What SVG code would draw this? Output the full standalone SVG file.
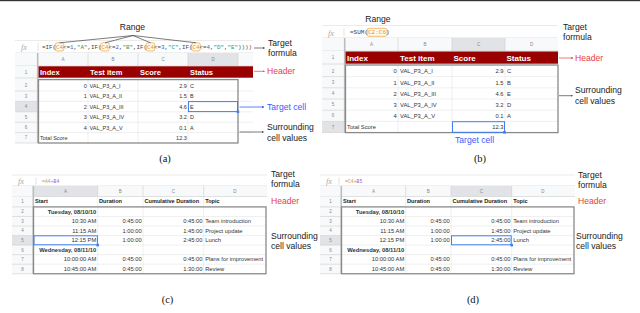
<svg xmlns="http://www.w3.org/2000/svg" width="640" height="313" viewBox="0 0 640 313">
<defs>
<style>
.ann{font-family:"Liberation Sans",Arial,sans-serif;font-size:8.6px;fill:#222}
.red{fill:#e8413c}
.blu{fill:#3d5afe}
.c{font-family:"Liberation Sans",Arial,sans-serif;font-size:5.5px;fill:#333}
.c2{font-family:"Liberation Sans",Arial,sans-serif;font-size:5.8px;fill:#333}
.r{text-anchor:end}
.b{font-weight:bold}
.hw{font-family:"Liberation Sans",Arial,sans-serif;font-weight:bold;fill:#fff;font-size:7.5px}
.hw2{font-family:"Liberation Sans",Arial,sans-serif;font-weight:bold;fill:#fff;font-size:8px}
.hb{font-family:"Liberation Sans",Arial,sans-serif;font-weight:bold;fill:#222;font-size:5.6px}
.lab{font-family:"Liberation Sans",Arial,sans-serif;font-size:4.5px;fill:#888;text-anchor:middle}
.fx{font-family:"Liberation Serif","Times New Roman",serif;font-style:italic;font-size:8.5px;fill:#aaa}
.mono{font-family:"Liberation Mono","Courier New",monospace;fill:#444}
.or{fill:#e69138}
.nu{fill:#3367d6}
.st{fill:#0f9d58}
.pu{fill:#9c5fc4}
.gr{fill:#999}
.hdrbg{fill:#f8f9fa}
.sel{fill:#e1e3e6}
.grid{stroke:#e4e4e4;stroke-width:0.6}
.div{stroke:#cfcfcf;stroke-width:0.6}
.frz{stroke:#bdbdbd;stroke-width:1.6}
.outl{fill:none;stroke:#8a8a8a;stroke-width:1.3}
.tc{fill:none;stroke:#3f7ff0;stroke-width:1}
.hnd{fill:#3f7ff0}
.bar{stroke:#e6e6e6;stroke-width:0.8}
.rbox{fill:#fffaf2;stroke:#f0a030;stroke-width:0.7}
.cap{font-family:"Liberation Serif","Times New Roman",serif;font-size:10.5px;fill:#111;text-anchor:middle}
.ln{stroke:#444;stroke-width:0.7;fill:none}
.lnr{stroke:#e8413c;stroke-width:0.7;fill:none}
.lnb{stroke:#3d5afe;stroke-width:0.8;fill:none}
</style>
<marker id="ah" viewBox="0 0 6 6" refX="5" refY="3" markerWidth="3" markerHeight="3" orient="auto"><path d="M0,0 L6,3 L0,6 z" fill="#444"/></marker>
<marker id="ahr" viewBox="0 0 6 6" refX="5" refY="3" markerWidth="3" markerHeight="3" orient="auto"><path d="M0,0 L6,3 L0,6 z" fill="#e8413c"/></marker>
<marker id="ahb" viewBox="0 0 6 6" refX="5" refY="3" markerWidth="3" markerHeight="3" orient="auto"><path d="M0,0 L6,3 L0,6 z" fill="#3d5afe"/></marker>
</defs>
<rect x="0" y="0" width="640" height="313" fill="#fff"/>
<rect x="0" y="0" width="640" height="1.2" fill="#333"/>

<!-- ===== Panel (a) ===== -->
<g id="panel-a">
  <text class="ann" x="132.5" y="29.5" text-anchor="middle">Range</text>
  <line class="bar" x1="15" y1="40.5" x2="253" y2="40.5"/>
  <text class="fx" x="21" y="50">fx</text>
  <line x1="38" y1="43" x2="38" y2="51" stroke="#ccc" stroke-width="0.6"/>
  <rect class="rbox" x="55.2" y="42.8" width="8.6" height="8.2" rx="2"/>
  <rect class="rbox" x="100.7" y="42.8" width="8.6" height="8.2" rx="2"/>
  <rect class="rbox" x="146.2" y="42.8" width="8.6" height="8.2" rx="2"/>
  <rect class="rbox" x="191.7" y="42.8" width="8.6" height="8.2" rx="2"/>
  <text class="mono" x="42" y="49.2" font-size="5.83" textLength="210" lengthAdjust="spacing">=IF(<tspan class="or">C4</tspan>&lt;=<tspan class="nu">1</tspan>,<tspan class="st">"A"</tspan>,IF(<tspan class="or">C4</tspan>&lt;=<tspan class="nu">2</tspan>,<tspan class="st">"B"</tspan>,IF(<tspan class="or">C4</tspan>&lt;=<tspan class="nu">3</tspan>,<tspan class="st">"C"</tspan>,IF(<tspan class="or">C4</tspan>&lt;=<tspan class="nu">4</tspan>,<tspan class="st">"D"</tspan>,<tspan class="st">"E"</tspan>))))</text>
  <line class="div" x1="15" y1="53" x2="253" y2="53"/>
  <rect class="hdrbg" x="15" y="53" width="238" height="13"/>
  <rect class="sel" x="188" y="53" width="50" height="13"/>
  <line class="div" x1="88" y1="53" x2="88" y2="66"/>
  <line class="div" x1="138" y1="53" x2="138" y2="66"/>
  <line class="div" x1="188" y1="53" x2="188" y2="66"/>
  <line class="div" x1="238" y1="53" x2="238" y2="66"/>
  <text class="lab" x="63" y="61.3">A</text>
  <text class="lab" x="113" y="61.3">B</text>
  <text class="lab" x="163" y="61.3">C</text>
  <text class="lab" x="213" y="61.3">D</text>
  <line class="div" x1="15" y1="66" x2="253" y2="66"/>
  <rect class="hdrbg" x="15" y="66" width="22.5" height="77"/>
  <rect class="sel" x="15" y="101.4" width="22.5" height="10.4"/>
  <g class="div">
    <line x1="15" y1="78" x2="37.5" y2="78"/>
    <line x1="15" y1="91" x2="37.5" y2="91"/>
    <line x1="15" y1="101.4" x2="37.5" y2="101.4"/>
    <line x1="15" y1="111.8" x2="37.5" y2="111.8"/>
    <line x1="15" y1="122.2" x2="37.5" y2="122.2"/>
    <line x1="15" y1="132.6" x2="37.5" y2="132.6"/>
    <line x1="15" y1="143" x2="37.5" y2="143"/>
  </g>
  <text class="lab" x="26" y="73.5">1</text>
  <text class="lab" x="26" y="87.4">2</text>
  <text class="lab" x="26" y="97.8">3</text>
  <text class="lab" x="26" y="108.2">4</text>
  <text class="lab" x="26" y="118.6">5</text>
  <text class="lab" x="26" y="129">6</text>
  <text class="lab" x="26" y="139.4">7</text>
  <line class="frz" x1="37.7" y1="53" x2="37.7" y2="143"/>
  <rect x="38.5" y="66.3" width="214.5" height="11.4" fill="#990000"/>
  <text class="hw" x="40" y="74.7">Index</text>
  <text class="hw" x="90" y="74.7">Test item</text>
  <text class="hw" x="140" y="74.7">Score</text>
  <text class="hw" x="190" y="74.7">Status</text>
  <g class="grid">
    <line x1="38" y1="91" x2="253" y2="91"/>
    <line x1="38" y1="101.4" x2="253" y2="101.4"/>
    <line x1="38" y1="111.8" x2="253" y2="111.8"/>
    <line x1="38" y1="122.2" x2="253" y2="122.2"/>
    <line x1="38" y1="132.6" x2="253" y2="132.6"/>
    <line x1="88" y1="80" x2="88" y2="143"/>
    <line x1="138" y1="80" x2="138" y2="143"/>
    <line x1="188" y1="80" x2="188" y2="143"/>
  </g>
  <rect class="outl" x="38.5" y="79.6" width="199.5" height="63.4"/>
  <g class="c">
    <text class="r" x="86.8" y="88">0</text><text x="89.5" y="88">VAL_P3_A_I</text><text class="r" x="186.8" y="88">2.9</text><text x="190" y="88">C</text>
    <text class="r" x="86.8" y="98.4">1</text><text x="89.5" y="98.4">VAL_P3_A_II</text><text class="r" x="186.8" y="98.4">1.5</text><text x="190" y="98.4">B</text>
    <text class="r" x="86.8" y="108.8">2</text><text x="89.5" y="108.8">VAL_P3_A_III</text><text class="r" x="186.8" y="108.8">4.6</text><text x="190" y="108.8">E</text>
    <text class="r" x="86.8" y="119.2">3</text><text x="89.5" y="119.2">VAL_P3_A_IV</text><text class="r" x="186.8" y="119.2">3.2</text><text x="190" y="119.2">D</text>
    <text class="r" x="86.8" y="129.6">4</text><text x="89.5" y="129.6">VAL_P3_A_V</text><text class="r" x="186.8" y="129.6">0.1</text><text x="190" y="129.6">A</text>
    <text x="40" y="140">Total Score</text><text class="r" x="186.8" y="140">12.3</text>
  </g>
  <rect class="tc" x="188.5" y="101.6" width="49" height="10"/>
  <rect class="hnd" x="236.6" y="110.4" width="2.6" height="2.6"/>
  <text class="ann" x="268" y="46">Target</text>
  <text class="ann" x="268" y="56">formula</text>
  <text class="ann red" x="267" y="74.3">Header</text>
  <text class="ann blu" x="267" y="110">Target cell</text>
  <text class="ann" x="267" y="130.2">Surrounding</text>
  <text class="ann" x="267" y="140.8">cell values</text>
  <text class="cap" x="165" y="161.5">(a)</text>
</g>

<!-- ===== Panel (b) ===== -->
<g id="panel-b">
  <text class="ann" x="378" y="21.5" text-anchor="middle">Range</text>
  <line class="bar" x1="322" y1="25.5" x2="558" y2="25.5"/>
  <text class="fx" x="328" y="36">fx</text>
  <line x1="344" y1="28.5" x2="344" y2="36.5" stroke="#ccc" stroke-width="0.6"/>
  <rect class="rbox" x="367" y="28.3" width="20" height="8" rx="2"/>
  <text class="mono" x="350" y="34.4" font-size="6" textLength="39.6" lengthAdjust="spacing">=SUM(<tspan class="or">C2:C6</tspan>)</text>
  <line class="div" x1="322" y1="38" x2="558" y2="38"/>
  <rect class="hdrbg" x="322" y="38" width="236" height="13"/>
  <rect class="sel" x="452" y="38" width="53" height="13"/>
  <line class="div" x1="398" y1="38" x2="398" y2="51"/>
  <line class="div" x1="452" y1="38" x2="452" y2="51"/>
  <line class="div" x1="505" y1="38" x2="505" y2="51"/>
  <text class="lab" x="371.5" y="46">A</text>
  <text class="lab" x="425" y="46">B</text>
  <text class="lab" x="478.5" y="46">C</text>
  <text class="lab" x="531.5" y="46">D</text>
  <line class="div" x1="322" y1="51" x2="558" y2="51"/>
  <rect class="hdrbg" x="322" y="51" width="22.5" height="82"/>
  <rect class="sel" x="322" y="121.4" width="22.5" height="11.2"/>
  <g class="div">
    <line x1="322" y1="64" x2="344.5" y2="64"/>
    <line x1="322" y1="76.6" x2="344.5" y2="76.6"/>
    <line x1="322" y1="87.8" x2="344.5" y2="87.8"/>
    <line x1="322" y1="99" x2="344.5" y2="99"/>
    <line x1="322" y1="110.2" x2="344.5" y2="110.2"/>
    <line x1="322" y1="121.4" x2="344.5" y2="121.4"/>
    <line x1="322" y1="132.6" x2="344.5" y2="132.6"/>
  </g>
  <text class="lab" x="333" y="59.3">1</text>
  <text class="lab" x="333" y="72.6">2</text>
  <text class="lab" x="333" y="83.8">3</text>
  <text class="lab" x="333" y="95">4</text>
  <text class="lab" x="333" y="106.2">5</text>
  <text class="lab" x="333" y="117.4">6</text>
  <text class="lab" x="333" y="128.6">7</text>
  <line class="frz" x1="344.7" y1="38" x2="344.7" y2="133"/>
  <rect x="345.5" y="51.5" width="212.5" height="12.2" fill="#990000"/>
  <text class="hw2" x="347" y="60.6">Index</text>
  <text class="hw2" x="400" y="60.6">Test item</text>
  <text class="hw2" x="453.5" y="60.6">Score</text>
  <text class="hw2" x="506.5" y="60.6">Status</text>
  <g class="grid">
    <line x1="345" y1="76.6" x2="558" y2="76.6"/>
    <line x1="345" y1="87.8" x2="558" y2="87.8"/>
    <line x1="345" y1="99" x2="558" y2="99"/>
    <line x1="345" y1="110.2" x2="558" y2="110.2"/>
    <line x1="345" y1="121.4" x2="558" y2="121.4"/>
    <line x1="398" y1="65" x2="398" y2="133"/>
    <line x1="452" y1="65" x2="452" y2="133"/>
    <line x1="505" y1="65" x2="505" y2="133"/>
  </g>
  <rect class="outl" x="345.5" y="65" width="212.5" height="67.6"/>
  <g class="c2">
    <text class="r" x="396.8" y="73.3">0</text><text x="400" y="73.3">VAL_P3_A_I</text><text class="r" x="503.5" y="73.3">2.9</text><text x="507" y="73.3">C</text>
    <text class="r" x="396.8" y="84.5">1</text><text x="400" y="84.5">VAL_P3_A_II</text><text class="r" x="503.5" y="84.5">1.5</text><text x="507" y="84.5">B</text>
    <text class="r" x="396.8" y="95.7">2</text><text x="400" y="95.7">VAL_P3_A_III</text><text class="r" x="503.5" y="95.7">4.6</text><text x="507" y="95.7">E</text>
    <text class="r" x="396.8" y="106.9">3</text><text x="400" y="106.9">VAL_P3_A_IV</text><text class="r" x="503.5" y="106.9">3.2</text><text x="507" y="106.9">D</text>
    <text class="r" x="396.8" y="118.1">4</text><text x="400" y="118.1">VAL_P3_A_V</text><text class="r" x="503.5" y="118.1">0.1</text><text x="507" y="118.1">A</text>
    <text x="347" y="129.3">Total Score</text><text class="r" x="503.5" y="129.3">12.3</text>
  </g>
  <rect class="tc" x="452.5" y="121.7" width="52" height="10.6"/>
  <rect class="hnd" x="503.2" y="131" width="2.6" height="2.6"/>
  <text class="ann" x="563" y="29.5">Target</text>
  <text class="ann" x="563" y="39.5">formula</text>
  <text class="ann red" x="575" y="61">Header</text>
  <text class="ann blu" x="455" y="142.5">Target cell</text>
  <text class="ann" x="575" y="93">Surrounding</text>
  <text class="ann" x="575" y="103.5">cell values</text>
  <text class="cap" x="480" y="161.5">(b)</text>
</g>

<!-- ===== Panel (c) ===== -->
<g id="panel-c">
  <line class="bar" x1="12" y1="175" x2="267" y2="175"/>
  <text class="fx" x="18" y="184">fx</text>
  <line x1="36" y1="177.5" x2="36" y2="184.5" stroke="#ccc" stroke-width="0.6"/>
  <text class="mono" x="42" y="182.6" font-size="4.8"><tspan class="gr">=</tspan><tspan class="or">A4</tspan><tspan class="gr">+</tspan><tspan class="pu">B4</tspan></text>
  <line class="div" x1="12" y1="186" x2="267" y2="186"/>
  <rect class="hdrbg" x="12" y="186" width="255" height="10.5"/>
  <rect class="sel" x="33.5" y="186" width="64.2" height="10.5"/>
  <line class="div" x1="97.7" y1="186" x2="97.7" y2="196.5"/>
  <line class="div" x1="143" y1="186" x2="143" y2="196.5"/>
  <line class="div" x1="203.7" y1="186" x2="203.7" y2="196.5"/>
  <text class="lab" x="65.6" y="193">A</text>
  <text class="lab" x="120.3" y="193">B</text>
  <text class="lab" x="173.3" y="193">C</text>
  <text class="lab" x="234.8" y="193">D</text>
  <line class="div" x1="12" y1="196.5" x2="267" y2="196.5"/>
  <rect class="hdrbg" x="12" y="196.5" width="21.3" height="77.3"/>
  <rect class="sel" x="12" y="235.55" width="21.3" height="9.55"/>
  <g class="div">
    <line x1="12" y1="206.9" x2="33.3" y2="206.9"/>
    <line x1="12" y1="216.45" x2="33.3" y2="216.45"/>
    <line x1="12" y1="226" x2="33.3" y2="226"/>
    <line x1="12" y1="235.55" x2="33.3" y2="235.55"/>
    <line x1="12" y1="245.1" x2="33.3" y2="245.1"/>
    <line x1="12" y1="254.65" x2="33.3" y2="254.65"/>
    <line x1="12" y1="264.2" x2="33.3" y2="264.2"/>
    <line x1="12" y1="273.75" x2="33.3" y2="273.75"/>
  </g>
  <text class="lab" x="22.5" y="203">1</text>
  <text class="lab" x="22.5" y="213.3">2</text>
  <text class="lab" x="22.5" y="222.8">3</text>
  <text class="lab" x="22.5" y="232.4">4</text>
  <text class="lab" x="22.5" y="241.9">5</text>
  <text class="lab" x="22.5" y="251.5">6</text>
  <text class="lab" x="22.5" y="261">7</text>
  <text class="lab" x="22.5" y="270.6">8</text>
  <line class="frz" x1="33.3" y1="186" x2="33.3" y2="274"/>
  <g class="grid">
    <line x1="97.7" y1="196.5" x2="97.7" y2="274"/>
    <line x1="143" y1="196.5" x2="143" y2="274"/>
    <line x1="203.7" y1="196.5" x2="203.7" y2="274"/>
    <line x1="33.5" y1="216.45" x2="266" y2="216.45"/>
    <line x1="33.5" y1="226" x2="266" y2="226"/>
    <line x1="33.5" y1="235.55" x2="266" y2="235.55"/>
    <line x1="33.5" y1="245.1" x2="266" y2="245.1"/>
    <line x1="33.5" y1="254.65" x2="266" y2="254.65"/>
    <line x1="33.5" y1="264.2" x2="266" y2="264.2"/>
  </g>
  <text class="hb" x="35" y="203.3">Start</text>
  <text class="hb" x="99" y="203.3">Duration</text>
  <text class="hb" x="144.5" y="203.3">Cumulative Duration</text>
  <text class="hb" x="205.2" y="203.3">Topic</text>
  <rect class="outl" x="33.5" y="206.9" width="232.5" height="66.85"/>
  <g class="c2">
    <text class="r b" x="96.3" y="213.6">Tuesday, 08/10/10</text>
    <text class="r" x="96.3" y="223.2">10:30 AM</text><text class="r" x="141.8" y="223.2">0:45:00</text><text class="r" x="202.5" y="223.2">0:45:00</text><text x="205.2" y="223.2">Team introduction</text>
    <text class="r" x="96.3" y="232.7">11:15 AM</text><text class="r" x="141.8" y="232.7">1:00:00</text><text class="r" x="202.5" y="232.7">1:45:00</text><text x="205.2" y="232.7">Project update</text>
    <text class="r" x="96.3" y="242.3">12:15 PM</text><text class="r" x="141.8" y="242.3">1:00:00</text><text class="r" x="202.5" y="242.3">2:45:00</text><text x="205.2" y="242.3">Lunch</text>
    <text class="r b" x="96.3" y="251.8">Wednesday, 08/11/10</text>
    <text class="r" x="96.3" y="261.4">10:00:00 AM</text><text class="r" x="141.8" y="261.4">0:45:00</text><text class="r" x="202.5" y="261.4">0:45:00</text><text x="205.2" y="261.4">Plans for improvement</text>
    <text class="r" x="96.3" y="270.9">10:45:00 AM</text><text class="r" x="141.8" y="270.9">0:45:00</text><text class="r" x="202.5" y="270.9">1:30:00</text><text x="205.2" y="270.9">Review</text>
  </g>
  <rect class="tc" x="34" y="235.8" width="63.4" height="9"/>
  <rect class="hnd" x="96.4" y="243.8" width="2.6" height="2.6"/>
  <text class="ann" x="271" y="177">Target</text>
  <text class="ann" x="271" y="187">formula</text>
  <text class="ann red" x="271" y="204">Header</text>
  <text class="ann" x="271" y="239">Surrounding</text>
  <text class="ann" x="271" y="249.3">cell values</text>
  <text class="cap" x="167.5" y="302.5">(c)</text>
</g>

<!-- ===== Panel (d) ===== -->
<g id="panel-d">
  <line class="bar" x1="320" y1="175" x2="575" y2="175"/>
  <text class="fx" x="326" y="184">fx</text>
  <line x1="339" y1="177.5" x2="339" y2="184.5" stroke="#ccc" stroke-width="0.6"/>
  <text class="mono" x="345" y="182.6" font-size="4.8"><tspan class="gr">=</tspan><tspan class="or">C4</tspan><tspan class="gr">+</tspan><tspan class="pu">B5</tspan></text>
  <line class="div" x1="320" y1="186" x2="575" y2="186"/>
  <rect class="hdrbg" x="320" y="186" width="255" height="10.5"/>
  <rect class="sel" x="451" y="186" width="60.7" height="10.5"/>
  <line class="div" x1="405.7" y1="186" x2="405.7" y2="196.5"/>
  <line class="div" x1="451" y1="186" x2="451" y2="196.5"/>
  <line class="div" x1="511.7" y1="186" x2="511.7" y2="196.5"/>
  <text class="lab" x="373.6" y="193">A</text>
  <text class="lab" x="428.3" y="193">B</text>
  <text class="lab" x="481.3" y="193">C</text>
  <text class="lab" x="542.8" y="193">D</text>
  <line class="div" x1="320" y1="196.5" x2="575" y2="196.5"/>
  <rect class="hdrbg" x="320" y="196.5" width="21.3" height="77.3"/>
  <rect class="sel" x="320" y="235.55" width="21.3" height="9.55"/>
  <g class="div">
    <line x1="320" y1="206.9" x2="341.3" y2="206.9"/>
    <line x1="320" y1="216.45" x2="341.3" y2="216.45"/>
    <line x1="320" y1="226" x2="341.3" y2="226"/>
    <line x1="320" y1="235.55" x2="341.3" y2="235.55"/>
    <line x1="320" y1="245.1" x2="341.3" y2="245.1"/>
    <line x1="320" y1="254.65" x2="341.3" y2="254.65"/>
    <line x1="320" y1="264.2" x2="341.3" y2="264.2"/>
    <line x1="320" y1="273.75" x2="341.3" y2="273.75"/>
  </g>
  <text class="lab" x="330.5" y="203">1</text>
  <text class="lab" x="330.5" y="213.3">2</text>
  <text class="lab" x="330.5" y="222.8">3</text>
  <text class="lab" x="330.5" y="232.4">4</text>
  <text class="lab" x="330.5" y="241.9">5</text>
  <text class="lab" x="330.5" y="251.5">6</text>
  <text class="lab" x="330.5" y="261">7</text>
  <text class="lab" x="330.5" y="270.6">8</text>
  <line class="frz" x1="341.3" y1="186" x2="341.3" y2="274"/>
  <g class="grid">
    <line x1="405.7" y1="196.5" x2="405.7" y2="274"/>
    <line x1="451" y1="196.5" x2="451" y2="274"/>
    <line x1="511.7" y1="196.5" x2="511.7" y2="274"/>
    <line x1="341.5" y1="216.45" x2="574" y2="216.45"/>
    <line x1="341.5" y1="226" x2="574" y2="226"/>
    <line x1="341.5" y1="235.55" x2="574" y2="235.55"/>
    <line x1="341.5" y1="245.1" x2="574" y2="245.1"/>
    <line x1="341.5" y1="254.65" x2="574" y2="254.65"/>
    <line x1="341.5" y1="264.2" x2="574" y2="264.2"/>
  </g>
  <text class="hb" x="343" y="203.3">Start</text>
  <text class="hb" x="407" y="203.3">Duration</text>
  <text class="hb" x="452.5" y="203.3">Cumulative Duration</text>
  <text class="hb" x="513.2" y="203.3">Topic</text>
  <rect class="outl" x="341.5" y="206.9" width="232.5" height="66.85"/>
  <g class="c2">
    <text class="r b" x="404.3" y="213.6">Tuesday, 08/10/10</text>
    <text class="r" x="404.3" y="223.2">10:30 AM</text><text class="r" x="449.8" y="223.2">0:45:00</text><text class="r" x="510.5" y="223.2">0:45:00</text><text x="513.2" y="223.2">Team introduction</text>
    <text class="r" x="404.3" y="232.7">11:15 AM</text><text class="r" x="449.8" y="232.7">1:00:00</text><text class="r" x="510.5" y="232.7">1:45:00</text><text x="513.2" y="232.7">Project update</text>
    <text class="r" x="404.3" y="242.3">12:15 PM</text><text class="r" x="449.8" y="242.3">1:00:00</text><text class="r" x="510.5" y="242.3">2:45:00</text><text x="513.2" y="242.3">Lunch</text>
    <text class="r b" x="404.3" y="251.8">Wednesday, 08/11/10</text>
    <text class="r" x="404.3" y="261.4">10:00:00 AM</text><text class="r" x="449.8" y="261.4">0:45:00</text><text class="r" x="510.5" y="261.4">0:45:00</text><text x="513.2" y="261.4">Plans for improvement</text>
    <text class="r" x="404.3" y="270.9">10:45:00 AM</text><text class="r" x="449.8" y="270.9">0:45:00</text><text class="r" x="510.5" y="270.9">1:30:00</text><text x="513.2" y="270.9">Review</text>
  </g>
  <rect class="tc" x="451.5" y="235.8" width="59.7" height="9"/>
  <rect class="hnd" x="510.4" y="243.8" width="2.6" height="2.6"/>
  <text class="ann" x="578" y="178">Target</text>
  <text class="ann" x="578" y="188">formula</text>
  <text class="ann red" x="578" y="203.5">Header</text>
  <text class="ann" x="576" y="239">Surrounding</text>
  <text class="ann" x="576" y="249.3">cell values</text>
  <text class="cap" x="473" y="302.5">(d)</text>
</g>

<!-- ===== Connectors ===== -->
<g id="connectors">
  <line class="ln" x1="133" y1="35.5" x2="59.5" y2="42.8"/>
  <line class="ln" x1="133" y1="35.5" x2="105" y2="42.8"/>
  <line class="ln" x1="133" y1="35.5" x2="150.5" y2="42.8"/>
  <line class="ln" x1="133" y1="35.5" x2="196" y2="42.8"/>
  <line class="ln" x1="254" y1="48" x2="264.5" y2="48" marker-end="url(#ah)"/>
  <line class="lnr" x1="254" y1="71.3" x2="264.5" y2="71.3" marker-end="url(#ahr)"/>
  <line class="lnb" x1="239.5" y1="107" x2="264" y2="107" marker-end="url(#ahb)"/>
  <line class="ln" x1="239.5" y1="132" x2="263.5" y2="132" marker-end="url(#ah)"/>
  <line class="lnr" x1="559" y1="58" x2="573" y2="58" marker-end="url(#ahr)"/>
  <line class="ln" x1="559" y1="95.7" x2="572.5" y2="95.7" marker-end="url(#ah)"/>
</g>
</svg>
